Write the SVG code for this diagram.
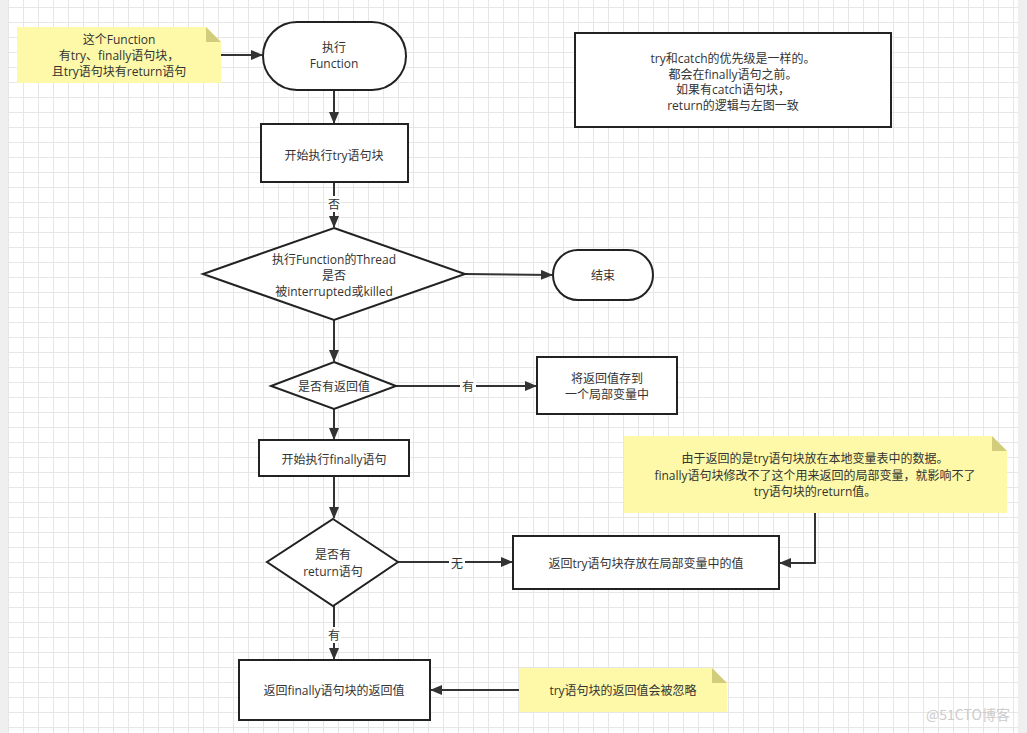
<svg xmlns="http://www.w3.org/2000/svg" width="1027" height="733" viewBox="0 0 1027 733">
<defs>
<pattern id="grid" x="8" y="7" width="15" height="15" patternUnits="userSpaceOnUse">
<path d="M0 0.5H15M0.5 0V15" fill="none" stroke="#e6e6e6" stroke-width="1"/>
</pattern>
<marker id="arr" viewBox="0 0 12 10" refX="11" refY="5" markerWidth="12" markerHeight="10" markerUnits="userSpaceOnUse" orient="auto">
<path d="M0 0L12 5L0 10Z" fill="#333"/>
</marker>
<style>
.sh{fill:#fff;stroke:#222;stroke-width:2}
.note{fill:#fdf9a8}
.fold{fill:#d2cd7c}
.t{font-family:"Open Sans","Noto Sans CJK SC",sans-serif;font-size:12px;fill:#333;text-anchor:middle;dominant-baseline:central}
.c{fill:none;stroke:#333;stroke-width:2}
.lbl{fill:#fff}
</style>
</defs>
<rect width="1027" height="733" fill="#fff"/>
<rect width="1027" height="733" fill="url(#grid)"/>
<rect x="0" y="0" width="8" height="733" fill="#efefef"/>
<rect x="1018" y="0" width="9" height="733" fill="#efefef"/>

<g id="connectors">
<path class="c" d="M221 55H262" marker-end="url(#arr)"/>
<path class="c" d="M334 90V123" marker-end="url(#arr)"/>
<path class="c" d="M334 182V227" marker-end="url(#arr)"/>
<rect class="lbl" x="327" y="196" width="14" height="16"/>
<text class="t" x="334" y="204">否</text>
<path class="c" d="M465 274L552 275" marker-end="url(#arr)"/>
<path class="c" d="M334 320V361" marker-end="url(#arr)"/>
<path class="c" d="M396 386H536" marker-end="url(#arr)"/>
<rect class="lbl" x="460" y="378" width="16" height="16"/>
<text class="t" x="468" y="386">有</text>
<path class="c" d="M334 409V439" marker-end="url(#arr)"/>
<path class="c" d="M334 476V518" marker-end="url(#arr)"/>
<path class="c" d="M398 562H512" marker-end="url(#arr)"/>
<rect class="lbl" x="449" y="554" width="16" height="16"/>
<text class="t" x="457" y="563">无</text>
<path class="c" d="M815 513V563H780" marker-end="url(#arr)"/>
<path class="c" d="M334 606V659" marker-end="url(#arr)"/>
<rect class="lbl" x="327" y="627" width="14" height="16"/>
<text class="t" x="334" y="635">有</text>
<path class="c" d="M519 690H431" marker-end="url(#arr)"/>
</g>

<g id="note1">
<path class="note" d="M17 27H206L221 42V83H17Z"/>
<path class="fold" d="M206 27L221 42H206Z"/>
<text class="t" x="119" y="39">这个Function</text>
<text class="t" x="119" y="55">有try、finally语句块，</text>
<text class="t" x="119" y="71">且try语句块有return语句</text>
</g>

<g id="start">
<rect class="sh" x="263" y="22" width="143" height="68" rx="34"/>
<text class="t" x="334" y="47">执行</text>
<text class="t" x="334" y="63">Function</text>
</g>

<g id="tryStart">
<rect class="sh" x="261" y="124" width="147" height="58"/>
<text class="t" x="334" y="155">开始执行try语句块</text>
</g>

<g id="threadCheck">
<path class="sh" d="M334 228L465 274L334 320L203 274Z"/>
<text class="t" x="334" y="259">执行Function的Thread</text>
<text class="t" x="334" y="275">是否</text>
<text class="t" x="334" y="291">被interrupted或killed</text>
</g>

<g id="end">
<rect class="sh" x="553" y="250" width="100" height="50" rx="25"/>
<text class="t" x="603" y="275">结束</text>
</g>

<g id="hasReturnValue">
<path class="sh" d="M334 362L396 386L334 409L271 386Z"/>
<text class="t" x="334" y="386">是否有返回值</text>
</g>

<g id="storeValue">
<rect class="sh" x="537" y="357" width="140" height="57"/>
<text class="t" x="607" y="378">将返回值存到</text>
<text class="t" x="607" y="394">一个局部变量中</text>
</g>

<g id="finallyStart">
<rect class="sh" x="259" y="440" width="150" height="36"/>
<text class="t" x="334" y="459">开始执行finally语句</text>
</g>

<g id="hasReturnStmt">
<path class="sh" d="M333 519L398 562L333 606L267 562Z"/>
<text class="t" x="333" y="554">是否有</text>
<text class="t" x="333" y="571">return语句</text>
</g>

<g id="returnTryValue">
<rect class="sh" x="513" y="536" width="266" height="53"/>
<text class="t" x="646" y="563">返回try语句块存放在局部变量中的值</text>
</g>

<g id="note2">
<path class="note" d="M624 436H992L1007 451V513H624Z"/>
<path class="fold" d="M992 436L1007 451H992Z"/>
<text class="t" x="815" y="458">由于返回的是try语句块放在本地变量表中的数据。</text>
<text class="t" x="815" y="475">finally语句块修改不了这个用来返回的局部变量，就影响不了</text>
<text class="t" x="815" y="491">try语句块的return值。</text>
</g>

<g id="returnFinallyValue">
<rect class="sh" x="239" y="660" width="191" height="60"/>
<text class="t" x="334" y="690">返回finally语句块的返回值</text>
</g>

<g id="note3">
<path class="note" d="M519 668H712L727 683V712H519Z"/>
<path class="fold" d="M712 668L727 683H712Z"/>
<text class="t" x="623" y="690">try语句块的返回值会被忽略</text>
</g>

<g id="infoBox">
<rect class="sh" x="575" y="33" width="316" height="94"/>
<text class="t" x="733" y="58">try和catch的优先级是一样的。</text>
<text class="t" x="733" y="74">都会在finally语句之前。</text>
<text class="t" x="733" y="89">如果有catch语句块，</text>
<text class="t" x="733" y="105">return的逻辑与左图一致</text>
</g>

<text x="968" y="714" font-family="Noto Sans CJK SC,sans-serif" font-size="14" fill="#cccccc" text-anchor="middle" dominant-baseline="central">@51CTO博客</text>
</svg>
